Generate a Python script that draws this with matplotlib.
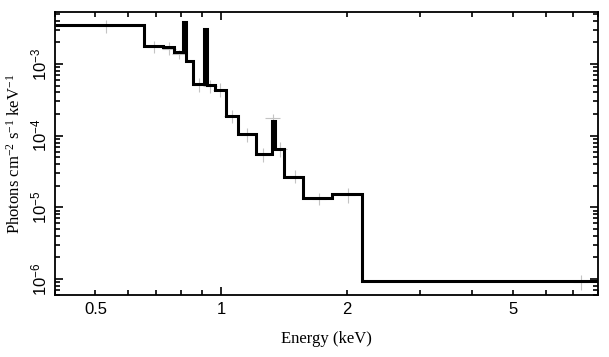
import matplotlib.pyplot as plt
import matplotlib.ticker as mticker
import numpy as np

plt.rcParams['mathtext.default'] = 'regular'

# model (folded, unfolded spectrum) bin edges in keV and values
edges = [0.40, 0.654, 0.727, 0.773, 0.809, 0.823, 0.855, 0.912, 0.924, 0.967,
         1.028, 1.100, 1.213, 1.323, 1.349, 1.418, 1.575, 1.843, 2.178, 8.0]
model = [3.49e-3, 1.76e-3, 1.71e-3, 1.46e-3, 3.88e-3, 1.11e-3, 5.21e-4, 3.04e-3,
         5.10e-4, 4.35e-4, 1.89e-4, 1.05e-4, 5.58e-5, 1.62e-4, 6.55e-5, 2.69e-5,
         1.35e-5, 1.53e-5, 9.3e-7]

# data points: energy, lower / upper bounds of the error bars
data_e = [0.529, 0.692, 0.751, 0.794, 0.887, 0.941, 0.995, 1.061, 1.156, 1.263,
          1.330, 1.385, 1.504, 1.718, 2.013, 7.29]
data_lo = [2.73e-3, 1.42e-3, 1.33e-3, 1.17e-3, 4.11e-4, 3.94e-4, 3.47e-4, 1.51e-4,
           8.28e-5, 4.36e-5, 1.51e-4, 5.12e-5, 2.18e-5, 1.09e-5, 1.15e-5, 7.11e-7]
data_hi = [4.10e-3, 2.09e-3, 2.02e-3, 1.57e-3, 6.38e-4, 5.98e-4, 5.43e-4, 2.29e-4,
           1.29e-4, 6.76e-5, 2.01e-4, 8.28e-5, 3.34e-5, 1.58e-5, 1.87e-5, 1.15e-6]

fig = plt.figure(figsize=(6.09, 3.57), dpi=100)
ax = fig.add_axes([0.0903, 0.1737, 0.8911, 0.7918])

e = np.array(data_e)
lo = np.array(data_lo)
hi = np.array(data_hi)
y = np.sqrt(lo * hi)
ax.errorbar(e, y, xerr=0.04 * e, yerr=[y - lo, hi - y], fmt='none',
            ecolor='#c4c4c4', elinewidth=0.8, zorder=1)
ax.stairs(model, edges, baseline=None, color='black', linewidth=2.2, zorder=2)

ax.set_xscale('log')
ax.set_yscale('log')
ax.set_xlim(0.4, 8.0)
ax.set_ylim(6.0e-7, 5.25e-3)

# x ticks: label 0.5, 1, 2, 5
ax.xaxis.set_major_locator(mticker.LogLocator(base=10, subs=[1.0]))
ax.xaxis.set_minor_locator(mticker.LogLocator(base=10, subs=np.arange(2, 10)))
ax.xaxis.set_major_formatter(mticker.FuncFormatter(lambda v, p: '%g' % v))
ax.xaxis.set_minor_formatter(mticker.FuncFormatter(
    lambda v, p: '%g' % v if round(v, 3) in (0.5, 2.0, 5.0) else ''))

ax.yaxis.set_major_locator(mticker.LogLocator(base=10))
ax.yaxis.set_minor_locator(mticker.LogLocator(base=10, subs=np.arange(2, 10)))
ax.yaxis.set_major_formatter(mticker.FuncFormatter(
    lambda v, p: '10$^{%d}$' % int(round(np.log10(v)))))
ax.yaxis.set_minor_formatter(mticker.NullFormatter())

ax.tick_params(which='both', direction='in', top=True, right=True,
               width=1.2, labelsize=12, labelfontfamily='Liberation Sans')
ax.tick_params(which='major', length=6)
ax.tick_params(which='minor', length=3.5)
ax.tick_params(axis='x', which='both', pad=5)
for lab in ax.get_yticklabels():
    lab.set_rotation(90)
    lab.set_va('center')
ax.tick_params(axis='y', which='major', labelrotation=90, pad=4)

for s in ax.spines.values():
    s.set_linewidth(1.3)

ax.set_xlabel('Energy (keV)', family='Liberation Serif', fontsize=12, labelpad=10)
ax.set_ylabel('Photons cm$^{-2}$ s$^{-1}$ keV$^{-1}$', family='Liberation Serif',
              fontsize=12, labelpad=4)

fig.savefig('out.png', dpi=100)
